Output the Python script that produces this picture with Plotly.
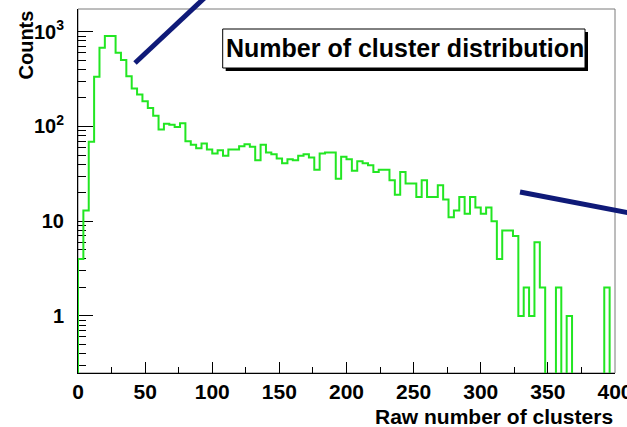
import plotly.graph_objects as go

# Histogram of raw cluster multiplicity: 100 bins of width 4 over [0, 400]
bin_width = 4
bin_lo = 0
counts = [
    4, 13, 69, 334, 676, 899, 899, 600, 502, 340,
    252, 218, 185, 157, 130, 93, 107, 104, 99, 108,
    70, 64, 59, 66, 57, 52, 56, 49, 57, 57,
    62, 65, 61, 44, 64, 53, 51, 46, 41, 45,
    44, 49, 51, 47, 35, 52, 53, 53, 28, 48,
    45, 34, 43, 41, 39, 33, 35, 35, 27, 19,
    33, 25, 25, 18, 27, 18, 18, 24, 17, 11,
    13, 18, 12, 18, 14, 12, 14, 10, 4, 8,
    8, 7, 1, 2, 1, 6, 2, 0, 0, 2,
    0, 1, 0, 0, 0, 0, 0, 0, 2, 0,
]

x_ticks = [0, 50, 100, 150, 200, 250, 300, 350, 400]
y_ticks = [1, 10, 100, 1000]
y_tick_text = ["1", "10", "10<sup>2</sup>", "10<sup>3</sup>"]
y_minor = [m * d for d in (0.1, 1, 10, 100) for m in range(2, 10)]

title_text = "Number of cluster distribution"
x_title = "Raw number of clusters"
y_title = "Counts"

# empty bins drop below the log range so their edges run down to the axis
floor = 1e-3
plot_vals = [c if c > 0 else floor for c in counts]
edges = [bin_lo + i * bin_width for i in range(len(counts) + 1)]
xs = [edges[0]] + edges
ys = [floor] + plot_vals + [plot_vals[-1]]

FONT = "Liberation Sans, Arial, Helvetica, sans-serif"
GREEN = "#22e622"
NAVY = "#0f1a78"

fig = go.Figure()
fig.add_trace(go.Scatter(
    x=xs, y=ys, mode="lines", line_shape="hv",
    line=dict(color=GREEN, width=2), hoverinfo="skip", showlegend=False,
))

W, H = 627, 427
L, R, T, B = 78, 12, 9, 54
pw, ph = W - L - R, H - T - B


def px(xp):
    return (xp - L) / pw


def py(yp):
    return (H - B - yp) / ph


fig.update_layout(
    width=W, height=H,
    margin=dict(l=L, r=R, t=T, b=B),
    paper_bgcolor="white", plot_bgcolor="white",
    font=dict(family=FONT, color="black"),
    showlegend=False,
)

fig.update_xaxes(
    range=[0, 400], tickvals=x_ticks, ticks="inside", ticklen=11, tickwidth=1,
    tickcolor="black", showline=True, linecolor="black", linewidth=1,
    showgrid=False, zeroline=False, layer="below traces", automargin=False,
    tickfont=dict(size=21, weight="bold", family=FONT),
    ticklabeloverflow="allow",
    minor=dict(ticks="inside", ticklen=6, dtick=25, tickcolor="black", showgrid=False),
)
fig.update_yaxes(
    type="log", range=[-0.602, 3.24], tickvals=y_ticks, ticktext=y_tick_text,
    ticks="inside", ticklen=15, tickwidth=1, tickcolor="black",
    showline=True, linecolor="black", linewidth=1,
    showgrid=False, zeroline=False, layer="below traces", automargin=False,
    tickfont=dict(size=20, weight="bold", family=FONT),
    ticklabelstandoff=9,
    minor=dict(ticks="inside", ticklen=8, tickvals=y_minor, tickcolor="black", showgrid=False),
)

shapes = [
    # frame on the top and right sides
    dict(type="rect", xref="paper", yref="paper", x0=0, x1=1, y0=0, y1=1,
         line=dict(color="#7a7a7a", width=1), layer="below"),
    # title box shadow and box
    dict(type="rect", xref="paper", yref="paper",
         x0=px(225.7), x1=px(588), y0=py(71), y1=py(32),
         fillcolor="black", line=dict(width=0)),
    dict(type="rect", xref="paper", yref="paper",
         x0=px(222.7), x1=px(585), y0=py(68), y1=py(29),
         fillcolor="white", line=dict(color="black", width=1)),
    # pointer strokes
    dict(type="line", xref="paper", yref="paper",
         x0=px(135), y0=py(63), x1=px(214), y1=py(-11),
         line=dict(color=NAVY, width=5)),
    dict(type="line", xref="paper", yref="paper",
         x0=px(520), y0=py(192), x1=px(640), y1=py(215),
         line=dict(color=NAVY, width=5)),
]
fig.update_layout(shapes=shapes)

fig.add_annotation(
    text=title_text, xref="paper", yref="paper",
    x=px(405), y=py(48.5), xanchor="center", yanchor="middle",
    showarrow=False, font=dict(size=25, weight="bold", family=FONT, color="black"),
)
fig.add_annotation(
    text=x_title, xref="paper", yref="paper", x=1, y=0,
    xanchor="right", yanchor="top", yshift=-30, showarrow=False,
    font=dict(size=21, weight="bold", family=FONT, color="black"),
)
fig.add_annotation(
    text=y_title, xref="paper", yref="paper", x=0, y=1,
    xanchor="center", yanchor="top", xshift=-53, yshift=0, textangle=-90,
    showarrow=False, font=dict(size=20, weight="bold", family=FONT, color="black"),
)

fig.write_html("out.html")
